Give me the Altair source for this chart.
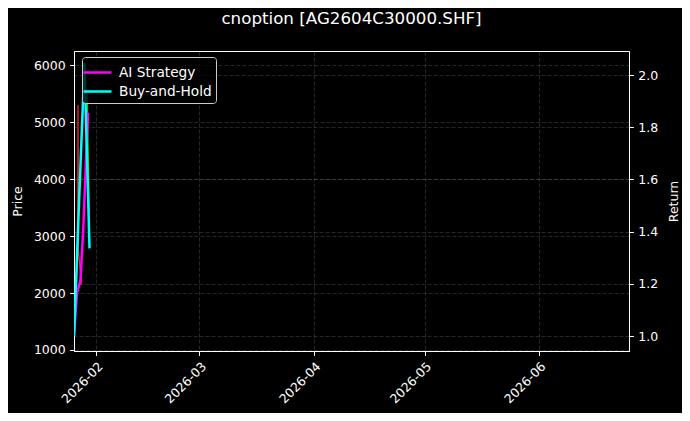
import altair as alt
import pandas as pd

chart_title = "cnoption [AG2604C30000.SHF]"

# underlying price (left axis), thin red / green pieces
price_dates = ["2026-01-26T00:00Z", "2026-01-27T00:00Z", "2026-01-27T02:00Z",
               "2026-01-27T05:00Z", "2026-01-28T00:00Z"]
price_vals = [1250, 2700, 5300, 2750, 2150]

green_dates = ["2026-01-29T14:00Z", "2026-01-30T02:00Z"]
green_vals = [5500, 3400]

# cumulative returns (right axis)
ai_dates = ["2026-01-26T00:00Z", "2026-01-26T19:00Z", "2026-01-27T18:00Z",
            "2026-01-28T11:00Z", "2026-01-29T19:00Z"]
ai_vals = [1.0, 1.164, 1.214, 1.397, 1.855]

bh_dates = ["2026-01-26T00:00Z", "2026-01-27T08:00Z", "2026-01-28T20:00Z",
            "2026-01-30T05:00Z"]
bh_vals = [1.0, 1.50, 2.046, 1.336]

series_names = ["AI Strategy", "Buy-and-Hold"]
series_colors = ["#ff00ff", "#00ffff"]

price_ticks = [1000, 2000, 3000, 4000, 5000, 6000]
return_ticks = [1.0, 1.2, 1.4, 1.6, 1.8, 2.0]
month_ticks = [2, 3, 4, 5, 6]

df_price = pd.DataFrame({"date": price_dates, "price": price_vals})
df_green = pd.DataFrame({"date": green_dates, "price": green_vals})
df_ret = pd.DataFrame({
    "date": ai_dates + bh_dates,
    "ret": ai_vals + bh_vals,
    "series": [series_names[0]] * len(ai_vals) + [series_names[1]] * len(bh_vals),
})

x_axis = alt.X(
    "date:T",
    title=None,
    scale=alt.Scale(
        type="utc",
        domain=[alt.DateTime(year=2026, month=1, date=26, utc=True),
                alt.DateTime(year=2026, month=6, date=25, hours=10, utc=True)],
    ),
    axis=alt.Axis(
        values=[alt.DateTime(year=2026, month=m, date=1, utc=True) for m in month_ticks],
        labelExpr="utcFormat(datum.value, '%Y-%m')",
        labelAngle=315, labelAlign="right", labelBaseline="top",
        labelOverlap=False, grid=True,
    ),
)

y_price = alt.Y(
    "price:Q",
    scale=alt.Scale(domain=[982, 6250], nice=False, zero=False),
    axis=alt.Axis(values=price_ticks, format="d", title="Price", grid=True, titlePadding=9),
)

red = alt.Chart(df_price).mark_line(color="#ff2020", strokeWidth=1.3, clip=True).encode(
    x=x_axis, y=y_price
)
green = alt.Chart(df_green).mark_line(color="#20c020", strokeWidth=1.3, clip=True).encode(
    x=x_axis, y=y_price
)

returns = alt.Chart(df_ret).mark_line(strokeWidth=2.5, clip=True).encode(
    x=x_axis,
    y=alt.Y(
        "ret:Q",
        scale=alt.Scale(domain=[0.943, 2.092], nice=False, zero=False),
        axis=alt.Axis(orient="right", values=return_ticks, format=".1f",
                      title="Return", titleAngle=270, grid=True, titlePadding=23),
    ),
    color=alt.Color(
        "series:N",
        scale=alt.Scale(domain=series_names, range=series_colors),
        legend=alt.Legend(
            title=None, orient="none", legendX=8, legendY=6,
            fillColor="rgba(0,0,0,0.8)", strokeColor="#cccccc", cornerRadius=3,
            padding=4, rowPadding=0, labelOffset=10,
            symbolType="M-1.4,0H1.4", symbolSize=400, symbolStrokeWidth=2.5,
            labelColor="white", labelFontSize=13.7, labelFont="DejaVu Sans",
        ),
    ),
)

chart = alt.layer(
    alt.layer(red, green),
    returns,
).resolve_scale(
    y="independent"
).properties(
    width=555, height=300,
    title=chart_title,
    autosize=alt.AutoSizeParams(type="none"),
    padding={"left": 66, "top": 43, "right": 53, "bottom": 62},
).configure(
    background="black", font="DejaVu Sans"
).configure_view(
    stroke="white", strokeWidth=1
).configure_axis(
    domainColor="white", tickColor="white", labelColor="white", titleColor="white",
    labelFont="DejaVu Sans", titleFont="DejaVu Sans",
    labelFontSize=12.5, titleFontSize=12.5, titleFontWeight="normal",
    tickSize=4.4, labelPadding=4.4,
    gridColor="#808080", gridOpacity=0.5, gridDash=[4, 2], gridWidth=0.6,
).configure_title(
    color="white", fontSize=16.7, fontWeight="normal", anchor="middle",
    offset=23, font="DejaVu Sans",
)

chart.save("out.html", embed_options={"renderer": "svg", "actions": False})
